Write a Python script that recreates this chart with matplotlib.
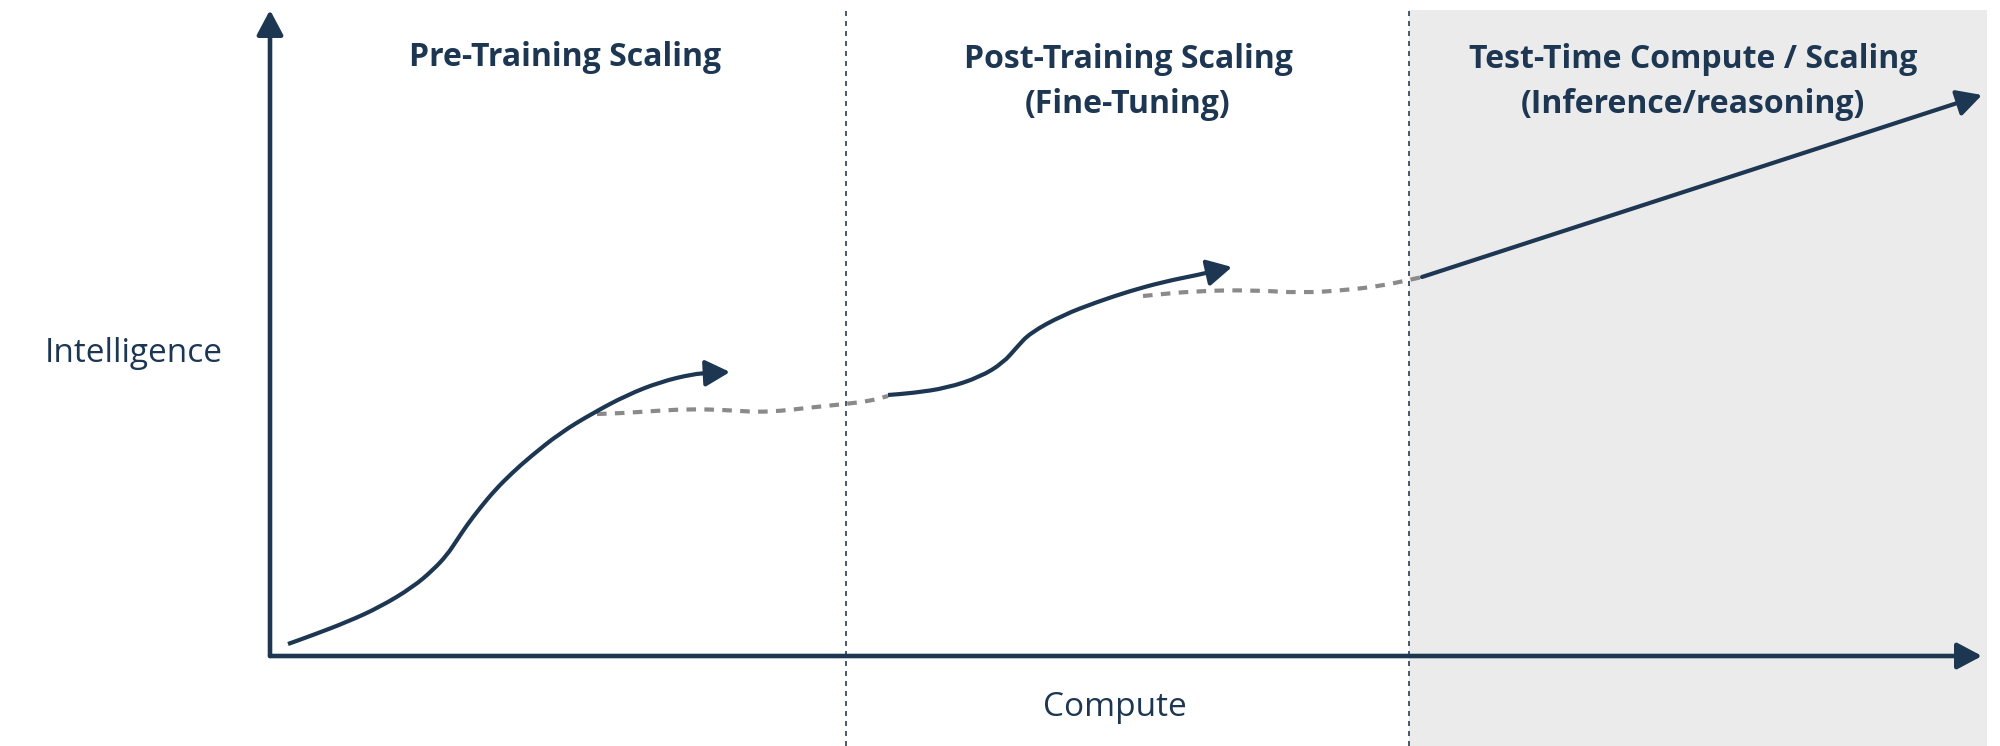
import matplotlib
matplotlib.use("Agg")
import matplotlib.pyplot as plt
from matplotlib.patches import Rectangle, PathPatch
from matplotlib.path import Path

# ---- data (compute on x, intelligence on y; origin at axes corner) ----
pre_x = [18, 43, 77, 110, 143, 163, 177, 187, 197, 210, 225, 242, 260, 290, 323, 357, 390, 423, 440, 460]
pre_y = [12, 21, 34, 49, 69, 86, 101, 116, 131, 148, 166, 183, 199, 223, 243, 261, 274, 282, 283, 284]

gap1_x = [327, 355, 383, 421, 455, 486, 510, 536, 575, 600, 618]
gap1_y = [242, 243, 245, 247, 246, 244, 245, 248, 252, 255, 260]

post_x = [618, 643, 677, 710, 733, 747, 760, 793, 827, 860, 893, 927, 962]
post_y = [261, 263, 268, 279, 293, 309, 323, 341, 354, 365, 374, 381, 389]

gap2_x = [873, 924, 982, 1032, 1077, 1110, 1139, 1152]
gap2_y = [360, 365, 366, 363, 366, 370, 376, 379]

ttc_x = [1152, 1712]
ttc_y = [379, 561]

phase_bounds = [576, 1139]
phase_titles = ["Pre-Training Scaling",
                "Post-Training Scaling\n(Fine-Tuning)",
                "Test-Time Compute / Scaling\n(Inference/reasoning)"]
phase_title_x = [295, 858, 1423]

x_label = "Compute"
y_label = "Intelligence"

NAVY = "#1d3752"
GRAY = "#8a8a8a"
SHADE = "#ebebeb"

plt.rcParams['font.family'] = ['Open Sans', 'DejaVu Sans']

fig = plt.figure(figsize=(20, 7.46), dpi=100)
ax = fig.add_axes([0, 0, 1, 1])
ax.set_xlim(-270, 1730)
ax.set_ylim(-90, 656)
ax.axis("off")


def smooth_path(xs, ys):
    """Quadratic-Bezier path with the read points as control points."""
    pts = list(zip(xs, ys))
    if len(pts) < 3:
        return Path(pts)
    verts = [pts[0]]
    codes = [Path.MOVETO]
    mid = lambda a, b: ((a[0] + b[0]) / 2, (a[1] + b[1]) / 2)
    verts.append(mid(pts[0], pts[1]))
    codes.append(Path.LINETO)
    for i in range(1, len(pts) - 1):
        verts += [pts[i], mid(pts[i], pts[i + 1])]
        codes += [Path.CURVE3, Path.CURVE3]
    verts.append(pts[-1])
    codes.append(Path.LINETO)
    return Path(verts, codes)


# shaded test-time region
ax.add_patch(Rectangle((phase_bounds[1], -90), 1717 - phase_bounds[1], 646 + 90,
                       facecolor=SHADE, edgecolor="none", zorder=0))

# phase dividers
for b in phase_bounds:
    ax.plot([b, b], [-90, 646], color="#2b3e52", lw=1.2, ls=(0, (3, 3)), zorder=1)

# axes arrows
arrow_kw = dict(arrowstyle="-|>,head_length=1.5,head_width=0.8", color=NAVY, lw=3.0,
                shrinkA=0, shrinkB=0)
axis_kw = dict(arrow_kw, lw=3.3)
ax.annotate("", xy=(1712, 0), xytext=(0, 0), arrowprops=axis_kw, zorder=3)
ax.annotate("", xy=(0, 646), xytext=(0, 0), arrowprops=axis_kw, zorder=3)

# dashed gaps
for gx, gy in [(gap1_x, gap1_y), (gap2_x, gap2_y)]:
    ax.add_patch(PathPatch(smooth_path(gx, gy), facecolor="none", edgecolor=GRAY,
                           lw=3.0, ls=(0, (2.3, 2.0)), capstyle="butt", zorder=2))

# solid curves with arrowheads
for cx, cy in [(pre_x, pre_y), (post_x, post_y), (ttc_x, ttc_y)]:
    ax.add_patch(PathPatch(smooth_path(cx[:-1], cy[:-1]), facecolor="none",
                           edgecolor=NAVY, lw=3.0, capstyle="butt",
                           joinstyle="round", zorder=3))
    ax.annotate("", xy=(cx[-1], cy[-1]), xytext=(cx[-2], cy[-2]),
                arrowprops=arrow_kw, zorder=3)

# phase titles: first line centred at y=599, 50 units per extra line
for t, tx in zip(phase_titles, phase_title_x):
    n = t.count("\n")
    ax.text(tx, 599 - 25 * n, t, ha="center", va="center", fontsize=23,
            fontweight="bold", color=NAVY, linespacing=1.45)

ax.text(-136, 303, y_label, ha="center", va="center", fontsize=24, color=NAVY)
ax.text(845, -51, x_label, ha="center", va="center", fontsize=24, color=NAVY)

fig.savefig("out.png", dpi=100)
